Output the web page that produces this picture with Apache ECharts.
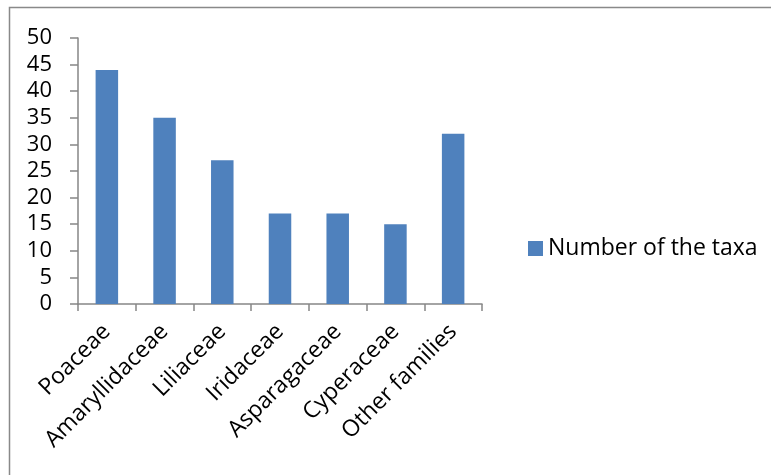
<!DOCTYPE html>
<html>
<head>
<meta charset="utf-8">
<script src="https://cdn.jsdelivr.net/npm/echarts@6/dist/echarts.min.js"></script>
<style>
html,body{margin:0;padding:0;background:#fff;}
#chart{width:771px;height:475px;}
</style>
</head>
<body>
<div id="chart"></div>
<script>
const categories = ["Poaceae", "Amaryllidaceae", "Liliaceae", "Iridaceae", "Asparagaceae", "Cyperaceae", "Other families"];
const taxaCounts = [44, 35, 27, 17, 17, 15, 32];
const seriesName = "Number of the taxa";

const chart = echarts.init(document.getElementById('chart'), null, {renderer: 'canvas'});
const FONT = '"Open Sans", sans-serif';
chart.setOption({
  animation: false,
  backgroundColor: '#fff',
  graphic: [{
    type: 'rect',
    shape: {x: 9.5, y: 7.5, width: 820, height: 520},
    style: {fill: 'none', stroke: '#898989', lineWidth: 1.5},
    silent: true
  }],
  legend: {
    orient: 'vertical',
    left: 523,
    top: 232,
    itemWidth: 15,
    itemHeight: 15,
    itemGap: 8,
    icon: 'rect',
    textStyle: {fontFamily: FONT, fontSize: 23, color: '#000'},
    data: [seriesName]
  },
  grid: {left: 78, top: 38, width: 404, height: 266, containLabel: false},
  xAxis: {
    type: 'category',
    data: categories,
    axisLine: {lineStyle: {color: '#868686', width: 1.5}},
    axisTick: {show: true, length: 7, lineStyle: {color: '#868686', width: 1.5}},
    axisLabel: {rotate: 45, interval: 0, margin: 24, fontFamily: FONT, fontSize: 23, color: '#000'}
  },
  yAxis: {
    type: 'value',
    min: 0, max: 50, interval: 5,
    splitLine: {show: false},
    axisLine: {show: true, lineStyle: {color: '#868686', width: 1.5}},
    axisTick: {show: true, length: 8, lineStyle: {color: '#868686', width: 1.5}},
    axisLabel: {margin: 26, fontFamily: FONT, fontSize: 22, color: '#000'}
  },
  series: [{
    name: seriesName,
    type: 'bar',
    data: taxaCounts,
    barWidth: '39%',
    itemStyle: {color: '#4F81BD'}
  }]
});
</script>
</body>
</html>
